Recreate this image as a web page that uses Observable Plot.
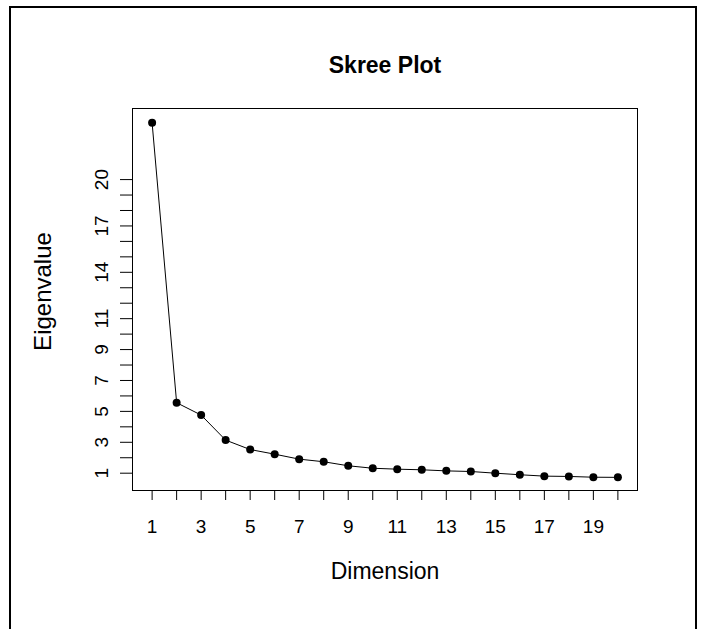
<!DOCTYPE html>
<html>
<head>
<meta charset="utf-8">
<script src="https://cdn.jsdelivr.net/npm/d3@7"></script>
<script src="https://cdn.jsdelivr.net/npm/@observablehq/plot@0.6"></script>
<style>
html, body { margin: 0; padding: 0; background: #fff; }
#wrap { position: relative; width: 705px; height: 629px; overflow: hidden; background: #fff; }
#border { position: absolute; left: 9px; top: 6px; width: 688px; height: 700px; border: 2.5px solid #000; box-sizing: border-box; pointer-events: none; }
</style>
</head>
<body>
<div id="wrap"><div id="chart"></div><div id="border"></div></div>
<script>
// Data
const dimensions = [1, 2, 3, 4, 5, 6, 7, 8, 9, 10, 11, 12, 13, 14, 15, 16, 17, 18, 19, 20];
const eigenvalues = [23.67, 5.56, 4.76, 3.14, 2.53, 2.23, 1.91, 1.74, 1.48, 1.32, 1.26, 1.22, 1.15, 1.11, 1.0, 0.9, 0.81, 0.79, 0.74, 0.73];

// Axis ticks and labels
const xTicks = [1, 2, 3, 4, 5, 6, 7, 8, 9, 10, 11, 12, 13, 14, 15, 16, 17, 18, 19, 20];
const xTickLabels = [1, 3, 5, 7, 9, 11, 13, 15, 17, 19];
const yTicks = [1, 2, 3, 4, 5, 6, 7, 8, 9, 10, 11, 12, 13, 14, 15, 16, 17, 18, 19, 20];
const yTickLabels = [1, 3, 5, 7, 9, 11, 14, 17, 20];

const titleText = ["Skree Plot"];
const xLabelText = ["Dimension"];
const yLabelText = ["Eigenvalue"];

const data = dimensions.map((d, i) => ({dimension: d, eigenvalue: eigenvalues[i]}));

const chart = Plot.plot({
  width: 705,
  height: 629,
  marginTop: 108,
  marginBottom: 139,
  marginLeft: 132,
  marginRight: 68,
  style: {fontFamily: "'Liberation Sans', Arial, sans-serif", background: "#fff", color: "#000"},
  x: {domain: [0.2, 20.8]},
  y: {domain: [-0.12, 24.6]},
  marks: [
    Plot.frame({stroke: "#000", strokeWidth: 1}),
    Plot.axisX({
      ticks: xTicks,
      tickFormat: d => xTickLabels.includes(d) ? String(d) : "",
      tickSize: 10,
      tickPadding: 19,
      fontSize: 19,
      label: null
    }),
    Plot.axisY({
      ticks: yTicks,
      tickFormat: d => yTickLabels.includes(d) ? String(d) : "",
      tickRotate: -90,
      tickSize: 12,
      tickPadding: 13,
      fontSize: 19,
      label: null
    }),
    Plot.line(data, {x: "dimension", y: "eigenvalue", stroke: "#000", strokeWidth: 1}),
    Plot.dot(data, {x: "dimension", y: "eigenvalue", r: 4, fill: "#000", stroke: "none"}),
    Plot.text(titleText, {text: d => d, frameAnchor: "top", textAnchor: "middle", dy: -36, lineAnchor: "bottom", fontSize: 23, fontWeight: "bold"}),
    Plot.text(xLabelText, {text: d => d, frameAnchor: "bottom", textAnchor: "middle", dy: 88, lineAnchor: "bottom", fontSize: 23}),
    Plot.text(yLabelText, {text: d => d, frameAnchor: "left", textAnchor: "middle", dx: -82, dy: -8, rotate: -90, lineAnchor: "bottom", fontSize: 24})
  ]
});
document.getElementById("chart").appendChild(chart);
</script>
</body>
</html>
